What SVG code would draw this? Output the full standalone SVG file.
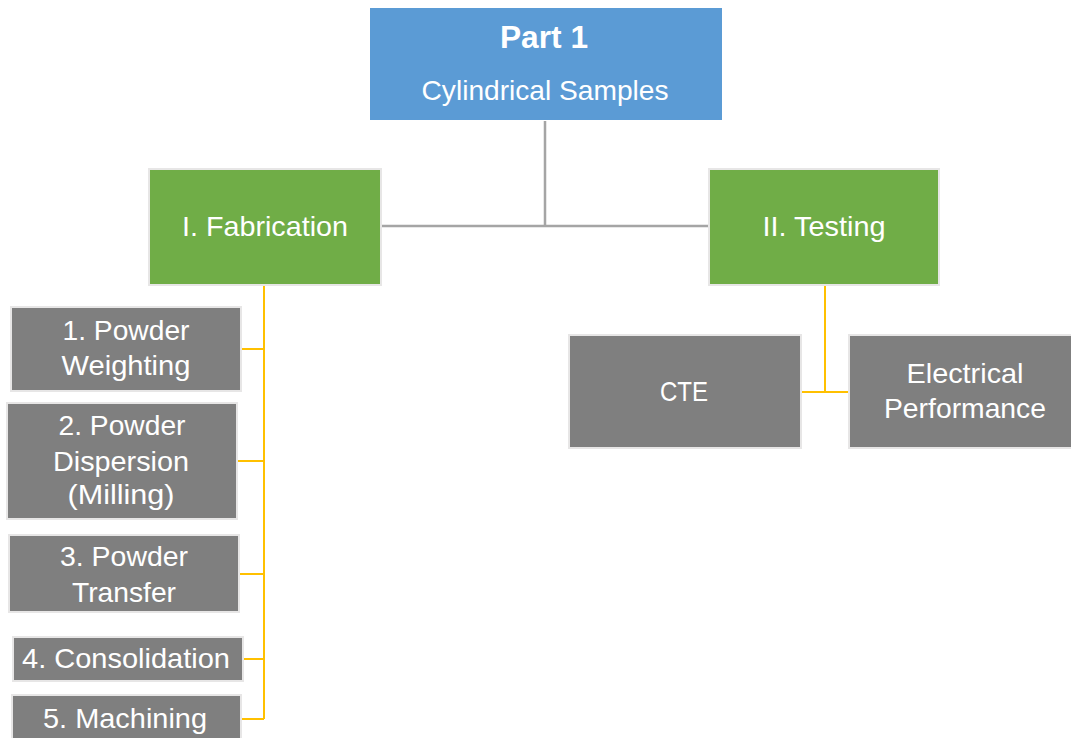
<svg xmlns="http://www.w3.org/2000/svg" width="1071" height="738" viewBox="0 0 1071 738">
  <style>
    .lbl { font-family: "Liberation Sans", Arial, sans-serif; font-size: 28px; fill: #ffffff; text-anchor: middle; }
    .bold { font-weight: bold; font-size: 31px; }
    .top { fill: #5B9BD5; }
    .mid { fill: #70AD47; stroke: #E7E6E6; stroke-width: 2; }
    .leaf { fill: #7F7F7F; stroke: #E7E6E6; stroke-width: 2; }
    .trunk { fill: none; stroke: #A5A5A5; stroke-width: 2.5; }
    .branch { fill: none; stroke: #FFC000; stroke-width: 2; }
  </style>
  <rect width="1071" height="738" fill="#ffffff"/>

  <g id="connectors">
    <path class="trunk" d="M545 121 V226 M382 226 H709"/>
    <path class="branch" d="M264 286 V719 M241 349 H264 M237 461 H264 M239 574 H264 M243 659 H264 M241 719 H264"/>
    <path class="branch" d="M825 286 V392 M801 392 H849"/>
  </g>

  <g id="part1">
    <rect class="top" x="370" y="8" width="352" height="112"/>
    <text class="lbl bold" x="544" y="48" textLength="88" lengthAdjust="spacingAndGlyphs">Part 1</text>
    <text class="lbl" x="545" y="100" textLength="247" lengthAdjust="spacingAndGlyphs">Cylindrical Samples</text>
  </g>

  <g id="fabrication">
    <rect class="mid" x="149" y="169" width="232" height="116"/>
    <text class="lbl" x="265" y="236" textLength="166" lengthAdjust="spacingAndGlyphs">I. Fabrication</text>
  </g>

  <g id="testing">
    <rect class="mid" x="709" y="169" width="230" height="116"/>
    <text class="lbl" x="824" y="236" textLength="123" lengthAdjust="spacingAndGlyphs">II. Testing</text>
  </g>

  <g id="step1">
    <rect class="leaf" x="11" y="307" width="230" height="84"/>
    <text class="lbl" x="126" y="340" textLength="127" lengthAdjust="spacingAndGlyphs">1. Powder</text>
    <text class="lbl" x="126" y="375" textLength="129" lengthAdjust="spacingAndGlyphs">Weighting</text>
  </g>

  <g id="step2">
    <rect class="leaf" x="7" y="403" width="230" height="116"/>
    <text class="lbl" x="122" y="435" textLength="127" lengthAdjust="spacingAndGlyphs">2. Powder</text>
    <text class="lbl" x="121" y="471" textLength="136" lengthAdjust="spacingAndGlyphs">Dispersion</text>
    <text class="lbl" x="121" y="504" textLength="107" lengthAdjust="spacingAndGlyphs">(Milling)</text>
  </g>

  <g id="step3">
    <rect class="leaf" x="9" y="535" width="230" height="77"/>
    <text class="lbl" x="124" y="566" textLength="128" lengthAdjust="spacingAndGlyphs">3. Powder</text>
    <text class="lbl" x="124" y="602" textLength="104" lengthAdjust="spacingAndGlyphs">Transfer</text>
  </g>

  <g id="step4">
    <rect class="leaf" x="13" y="637" width="230" height="44"/>
    <text class="lbl" x="126" y="668" textLength="208" lengthAdjust="spacingAndGlyphs">4. Consolidation</text>
  </g>

  <g id="step5">
    <rect class="leaf" x="12" y="695" width="229" height="60"/>
    <text class="lbl" x="125" y="728" textLength="164" lengthAdjust="spacingAndGlyphs">5. Machining</text>
  </g>

  <g id="cte">
    <rect class="leaf" x="569" y="335" width="232" height="113"/>
    <text class="lbl" x="684" y="401" textLength="48" lengthAdjust="spacingAndGlyphs">CTE</text>
  </g>

  <g id="electrical">
    <rect class="leaf" x="849" y="335" width="232" height="113"/>
    <text class="lbl" x="965" y="383" textLength="117" lengthAdjust="spacingAndGlyphs">Electrical</text>
    <text class="lbl" x="965" y="418" textLength="162" lengthAdjust="spacingAndGlyphs">Performance</text>
  </g>
</svg>
